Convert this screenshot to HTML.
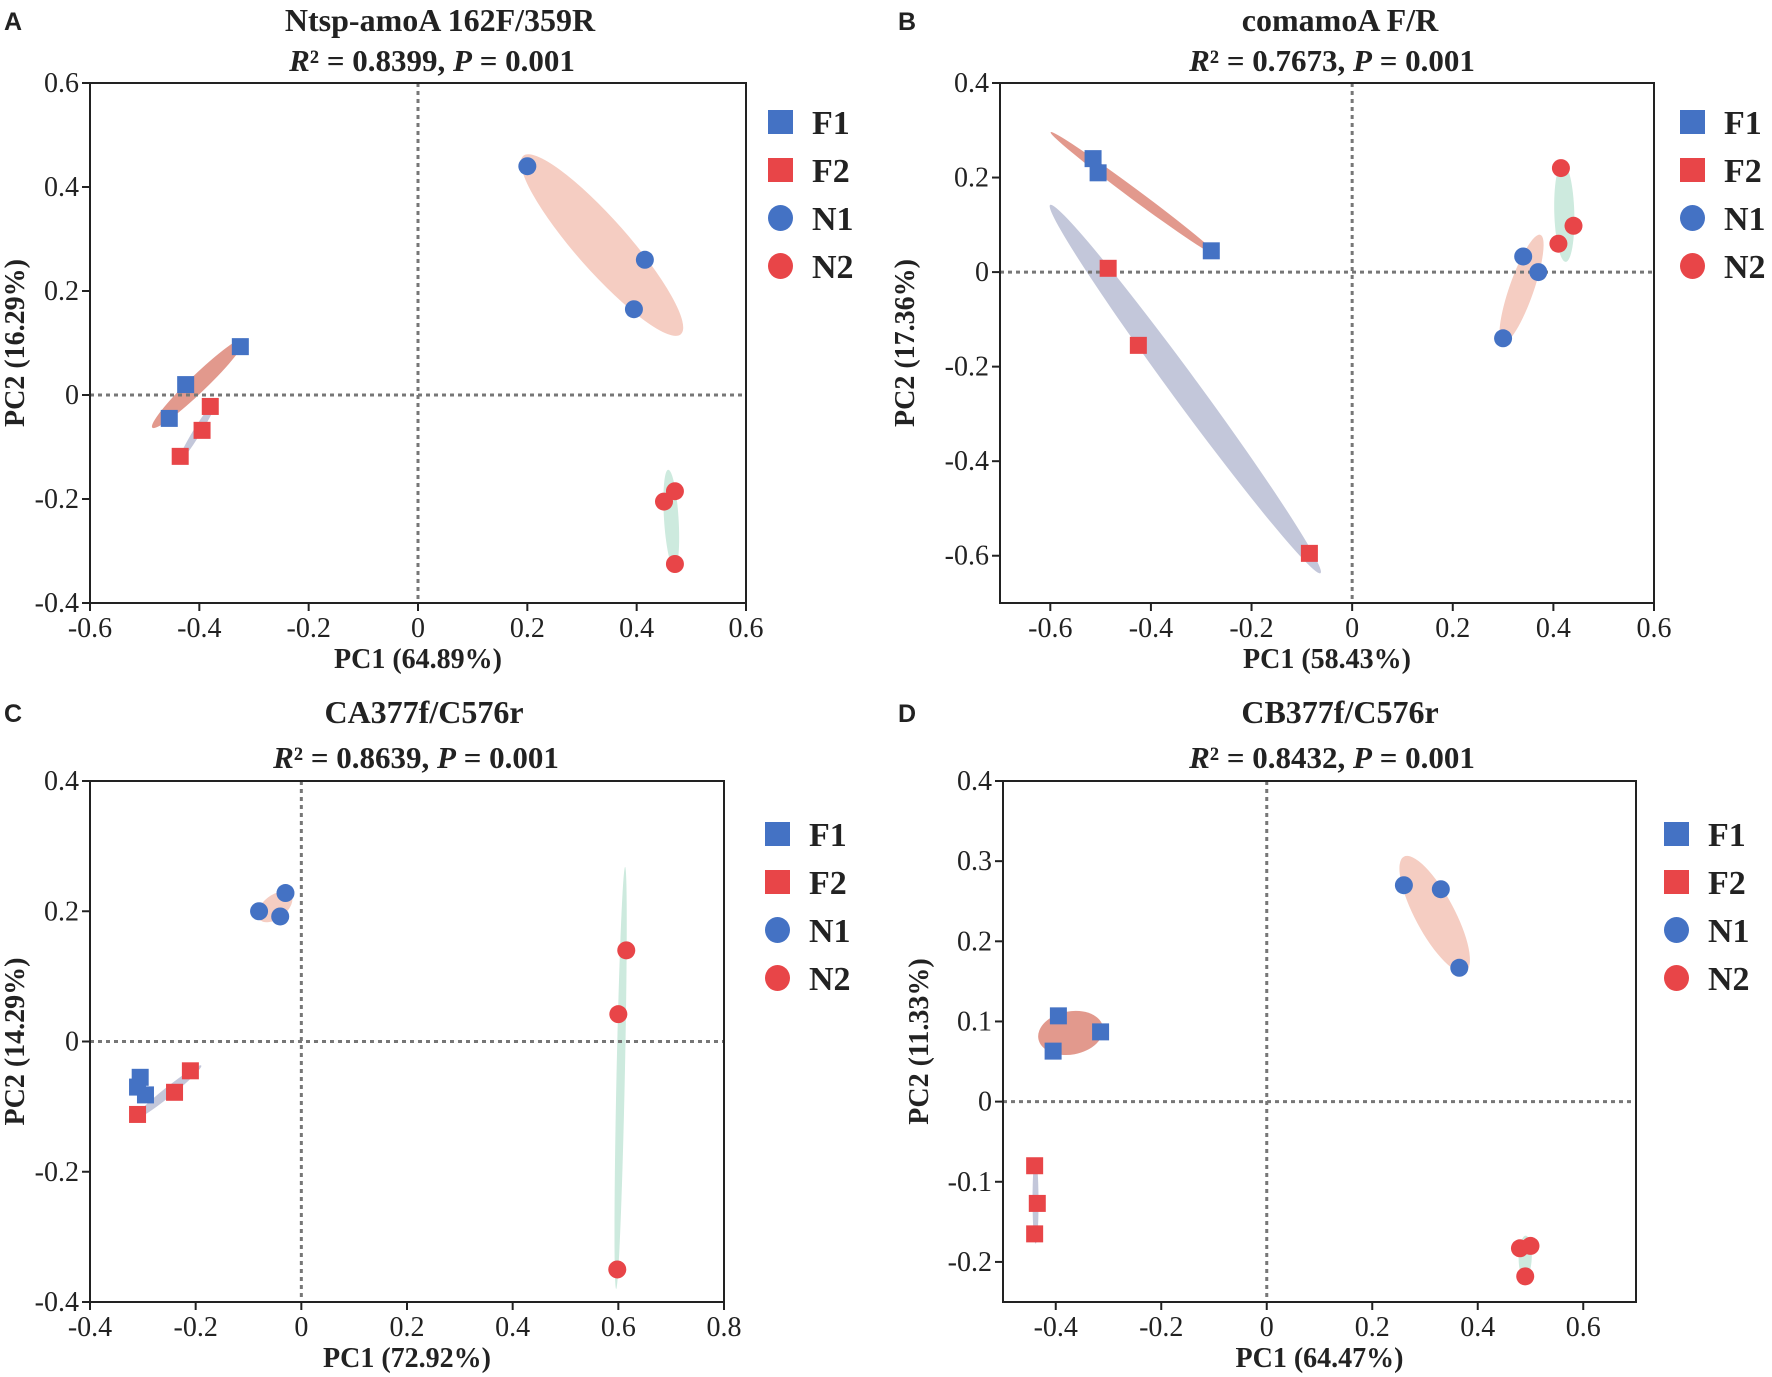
<!DOCTYPE html>
<html><head><meta charset="utf-8">
<style>
html,body{margin:0;padding:0;background:#fff;}
svg{display:block;}
text{font-family:"Liberation Serif",serif;fill:#222;}
.lt{font-family:"Liberation Sans",sans-serif;font-weight:bold;}
</style></head>
<body>
<svg id="fig" width="1772" height="1377" viewBox="0 0 1772 1377" xmlns="http://www.w3.org/2000/svg"></svg>
<script>
// ---- Data ----
const groups = ["F1","F2","N1","N2"];
const A_F1 = [[-0.455,-0.045],[-0.425,0.02],[-0.325,0.093]];
const A_F2 = [[-0.435,-0.118],[-0.395,-0.068],[-0.38,-0.022]];
const A_N1 = [[0.2,0.44],[0.415,0.26],[0.395,0.165]];
const A_N2 = [[0.45,-0.205],[0.47,-0.185],[0.47,-0.325]];
const B_F1 = [[-0.515,0.24],[-0.505,0.21],[-0.28,0.045]];
const B_F2 = [[-0.485,0.008],[-0.425,-0.155],[-0.085,-0.595]];
const B_N1 = [[0.3,-0.14],[0.34,0.033],[0.37,0.0]];
const B_N2 = [[0.415,0.22],[0.44,0.098],[0.41,0.06]];
const C_F1 = [[-0.305,-0.055],[-0.31,-0.07],[-0.295,-0.082]];
const C_F2 = [[-0.31,-0.112],[-0.24,-0.078],[-0.21,-0.045]];
const C_N1 = [[-0.08,0.2],[-0.03,0.228],[-0.04,0.192]];
const C_N2 = [[0.615,0.14],[0.6,0.042],[0.598,-0.35]];
const D_F1 = [[-0.395,0.107],[-0.315,0.087],[-0.405,0.063]];
const D_F2 = [[-0.44,-0.08],[-0.435,-0.127],[-0.44,-0.165]];
const D_N1 = [[0.26,0.27],[0.33,0.265],[0.365,0.167]];
const D_N2 = [[0.48,-0.183],[0.5,-0.18],[0.49,-0.218]];
const A_xticks = [-0.6,-0.4,-0.2,0,0.2,0.4,0.6];
const A_yticks = [-0.4,-0.2,0,0.2,0.4,0.6];
const B_xticks = [-0.6,-0.4,-0.2,0,0.2,0.4,0.6];
const B_yticks = [-0.6,-0.4,-0.2,0,0.2,0.4];
const C_xticks = [-0.4,-0.2,0,0.2,0.4,0.6,0.8];
const C_yticks = [-0.4,-0.2,0,0.2,0.4];
const D_xticks = [-0.4,-0.2,0,0.2,0.4,0.6];
const D_yticks = [-0.2,-0.1,0,0.1,0.2,0.3,0.4];

const NS="http://www.w3.org/2000/svg";
const svg=document.getElementById('fig');
function mk(tag,attrs,parent){const e=document.createElementNS(NS,tag);for(const k in attrs)e.setAttribute(k,attrs[k]);(parent||svg).appendChild(e);return e;}
const colors={F1:"#4472c4",F2:"#e84548",N1:"#4472c4",N2:"#e84548"};
const ellCol={F1:"#e2998d",F2:"#c3c7da",N1:"#f5cdc2",N2:"#cdeade"};
function fmt(v){return v===0?"0":String(v);}

function panel(cfg){
  const g=mk('g',{});
  
  
  const {x0,x1,y0,y1,px0,px1,py0,py1}=cfg;
  const sx=v=>px0+(v-x0)/(x1-x0)*(px1-px0);
  const sy=v=>py1-(v-y0)/(y1-y0)*(py1-py0);
  const data=cfg.data;
  groups.forEach(gr=>{
    const pts=data[gr].map(p=>[sx(p[0]),sy(p[1])]);
    const n=pts.length;
    const mx=pts.reduce((a,p)=>a+p[0],0)/n, my=pts.reduce((a,p)=>a+p[1],0)/n;
    let sxx=0,syy=0,sxy=0;
    pts.forEach(p=>{sxx+=(p[0]-mx)**2;syy+=(p[1]-my)**2;sxy+=(p[0]-mx)*(p[1]-my);});
    sxx/=(n-1);syy/=(n-1);sxy/=(n-1);
    const tr=sxx+syy, det=sxx*syy-sxy*sxy;
    const l1=tr/2+Math.sqrt(Math.max(0,tr*tr/4-det)), l2=Math.max(0,tr/2-Math.sqrt(Math.max(0,tr*tr/4-det)));
    const ang=Math.atan2(l1-sxx,sxy)*180/Math.PI;
    const k=1.25;
    const e=mk('ellipse',{cx:mx,cy:my,rx:Math.max(3,k*Math.sqrt(l1)),ry:Math.max(3,k*Math.sqrt(l2)),fill:ellCol[gr],transform:`rotate(${Math.abs(sxy)<1e-9?(sxx>=syy?0:90):ang} ${mx} ${my})`},g);
    
    
  });
  const zl1=mk('line',{x1:px0,x2:px1,y1:sy(0),y2:sy(0),stroke:"#777",'stroke-width':3,'stroke-dasharray':"4 4"},g);
  
  
  const zl2=mk('line',{x1:sx(0),x2:sx(0),y1:py0,y2:py1,stroke:"#777",'stroke-width':3,'stroke-dasharray':"4 4"},g);
  
  
  const box=mk('rect',{x:px0,y:py0,width:px1-px0,height:py1-py0,fill:"none",stroke:"#222",'stroke-width':2},g);
  
  
  cfg.xt.forEach(v=>{
    const X=sx(v);
    const t=mk('line',{x1:X,x2:X,y1:py1,y2:py1+8,stroke:"#222",'stroke-width':2},g);
    
    
    const l=mk('text',{x:X,y:py1+34,'text-anchor':'middle','font-size':28},g);
    l.textContent=fmt(v);
    
    
  });
  cfg.yt.forEach(v=>{
    const Y=sy(v);
    const t=mk('line',{x1:px0-8,x2:px0,y1:Y,y2:Y,stroke:"#222",'stroke-width':2},g);
    
    
    const l=mk('text',{x:px0-11,y:Y+9,'text-anchor':'end','font-size':28},g);
    l.textContent=fmt(v);
    
    
  });
  groups.forEach(gr=>{
    data[gr].forEach(p=>{
      const X=sx(p[0]),Y=sy(p[1]);
      let m;
      if(gr[0]==='F') m=mk('rect',{x:X-8.5,y:Y-8.5,width:17,height:17,fill:colors[gr]},g);
      else m=mk('circle',{cx:X,cy:Y,r:9,fill:colors[gr]},g);
      
      
    });
  });
  const t1=mk('text',{x:cfg.tx,y:cfg.ty+11,'text-anchor':'middle','font-size':32,'font-weight':'bold'},g);
  t1.textContent=cfg.title;
  
  
  const t2=mk('text',{x:cfg.tx-8,y:cfg.ty2+11,'text-anchor':'middle','font-size':31,'font-weight':'bold'},g);
  t2.innerHTML=`<tspan font-style="italic">R</tspan>² = ${cfg.r2}, <tspan font-style="italic">P</tspan> = 0.001`;
  
  
  const lt=mk('text',{x:cfg.lx,y:cfg.ty+10,'font-size':25,class:'lt'},g);
  lt.textContent=cfg.letter;
  
  
  const xl=mk('text',{x:(px0+px1)/2,y:py1+65,'text-anchor':'middle','font-size':28,'font-weight':'bold'},g);
  xl.textContent=cfg.xlab;
  
  
  const yc=(py0+py1)/2, yx=cfg.ylx;
  const yl=mk('text',{x:yx,y:yc,'text-anchor':'middle','font-size':28,'font-weight':'bold',transform:`rotate(-90 ${yx} ${yc})`},g);
  yl.textContent=cfg.ylab;
  
  
  groups.forEach((gr,i)=>{
    const Y=cfg.legy+i*48;
    const lg=mk('g',{},g);
    
    
    if(gr[0]==='F') mk('rect',{x:cfg.legx,y:Y-12,width:25,height:24,fill:colors[gr]},lg);
    else mk('ellipse',{cx:cfg.legx+12.5,cy:Y,rx:12.5,ry:13,fill:colors[gr]},lg);
    const tx=mk('text',{x:cfg.legx+44,y:Y+12,'font-size':34,'font-weight':'bold'},lg);
    tx.textContent=gr;
  });
}
panel({letter:"A",title:"Ntsp-amoA 162F/359R",r2:"0.8399",tx:440,ty:20,ty2:60,lx:4,
  x0:-0.6,x1:0.6,y0:-0.4,y1:0.6,px0:90,px1:746,py0:83,py1:603,xt:A_xticks,yt:A_yticks,
  xlab:"PC1 (64.89%)",ylab:"PC2 (16.29%)",ylx:24,legx:768,legy:122,
  data:{F1:A_F1,F2:A_F2,N1:A_N1,N2:A_N2}});
panel({letter:"B",title:"comamoA F/R",r2:"0.7673",tx:1340,ty:20,ty2:60,lx:898,
  x0:-0.7,x1:0.6,y0:-0.7,y1:0.4,px0:1000,px1:1654,py0:83,py1:603,xt:B_xticks,yt:B_yticks,
  xlab:"PC1 (58.43%)",ylab:"PC2 (17.36%)",ylx:914,legx:1680,legy:122,
  data:{F1:B_F1,F2:B_F2,N1:B_N1,N2:B_N2}});
panel({letter:"C",title:"CA377f/C576r",r2:"0.8639",tx:424,ty:712,ty2:757,lx:4,
  x0:-0.4,x1:0.8,y0:-0.4,y1:0.4,px0:90,px1:724,py0:781,py1:1302,xt:C_xticks,yt:C_yticks,
  xlab:"PC1 (72.92%)",ylab:"PC2 (14.29%)",ylx:24,legx:765,legy:834,
  data:{F1:C_F1,F2:C_F2,N1:C_N1,N2:C_N2}});
panel({letter:"D",title:"CB377f/C576r",r2:"0.8432",tx:1340,ty:712,ty2:757,lx:898,
  x0:-0.5,x1:0.7,y0:-0.25,y1:0.4,px0:1003,px1:1636,py0:781,py1:1302,xt:D_xticks,yt:D_yticks,
  xlab:"PC1 (64.47%)",ylab:"PC2 (11.33%)",ylx:928,legx:1664,legy:834,
  data:{F1:D_F1,F2:D_F2,N1:D_N1,N2:D_N2}});
</script>
</body></html>
